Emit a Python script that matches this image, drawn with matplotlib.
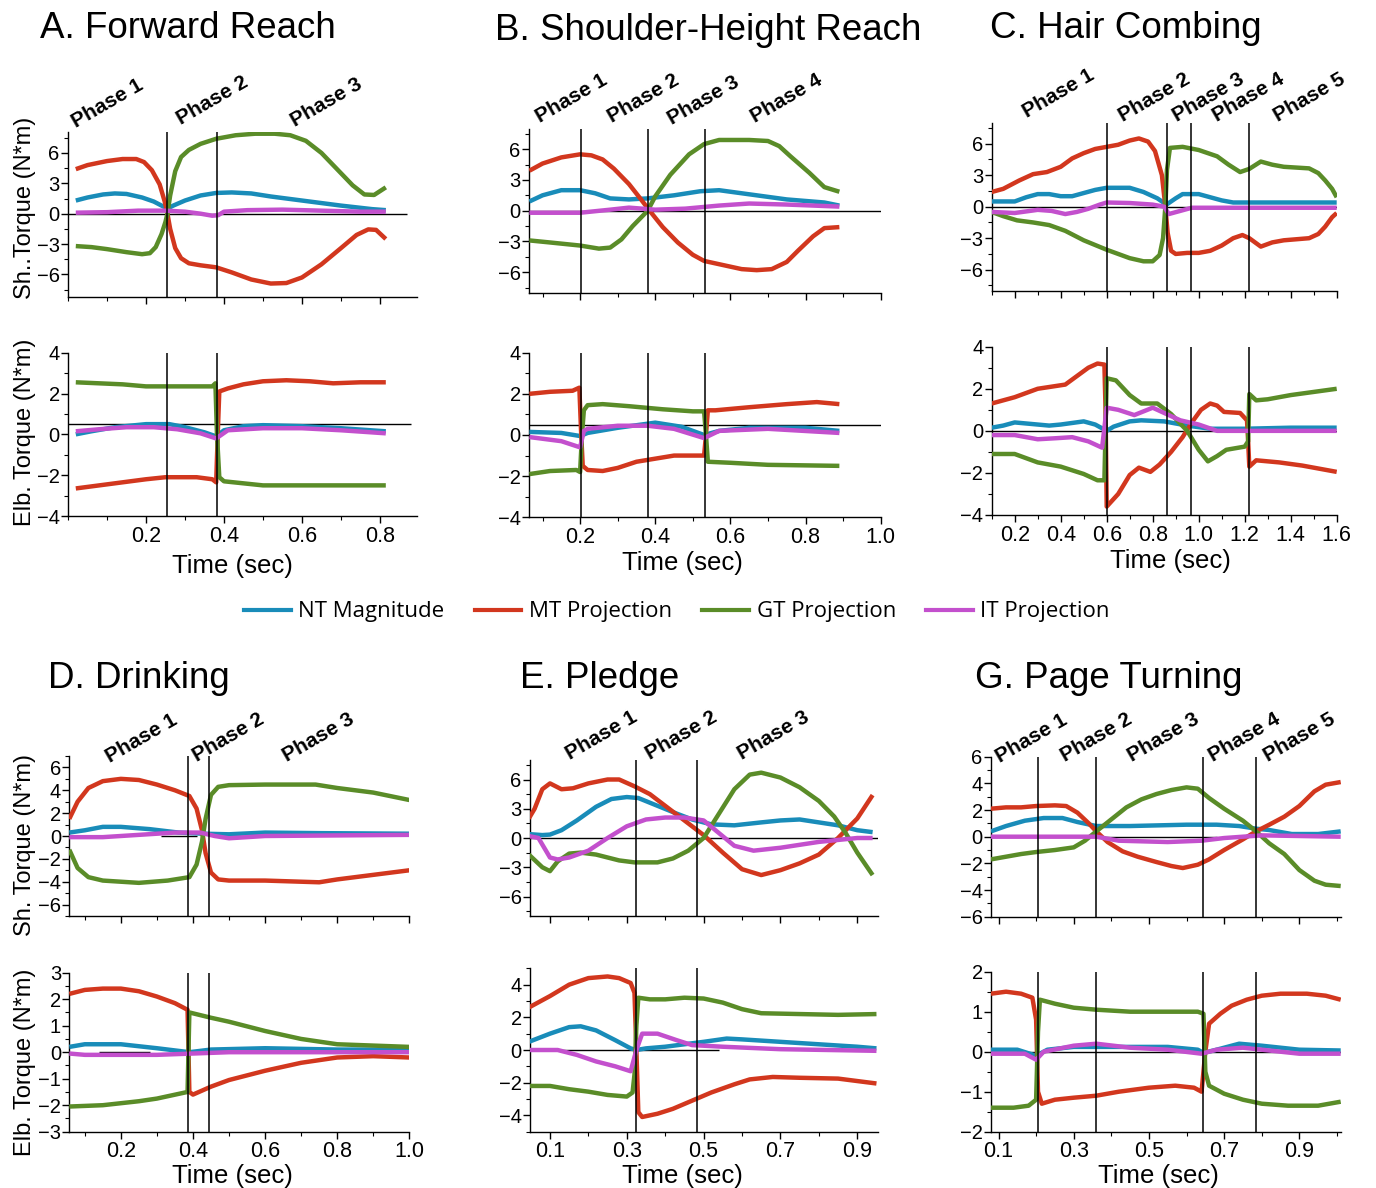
import matplotlib

matplotlib.use("Agg")

import matplotlib.pyplot as plt
from matplotlib.lines import Line2D
from matplotlib.ticker import MultipleLocator

plt.rcParams["font.family"] = ["Liberation Sans", "DejaVu Sans"]

W, H = 1376, 1188

SERIES = ["NT", "MT", "GT", "IT"]
LABELS = {"NT": "NT Magnitude", "MT": "MT Projection", "GT": "GT Projection", "IT": "IT Projection"}
COLORS = {"NT": "#198CB9", "MT": "#D2371E", "GT": "#5A8C28", "IT": "#C350CD"}

# ---- data: (time sec, torque N*m) ----
A_SH = {
    "NT": [(0.02, 1.3), (0.05, 1.6), (0.09, 1.9), (0.12, 2.0), (0.15, 1.95), (0.19, 1.6), (0.22, 1.2),
           (0.245, 0.7), (0.255, 0.5), (0.27, 0.8), (0.30, 1.3), (0.34, 1.8), (0.38, 2.05), (0.42, 2.1),
           (0.47, 2.0), (0.52, 1.7), (0.6, 1.3), (0.7, 0.8), (0.78, 0.45), (0.815, 0.35)],
    "MT": [(0.02, 4.4), (0.05, 4.8), (0.10, 5.2), (0.14, 5.4), (0.175, 5.4), (0.195, 5.1), (0.215, 4.3),
           (0.235, 2.9), (0.248, 1.2), (0.255, 0.0), (0.262, -1.5), (0.275, -3.4), (0.29, -4.4), (0.31, -4.9),
           (0.34, -5.1), (0.38, -5.3), (0.42, -5.8), (0.47, -6.5), (0.52, -6.9), (0.56, -6.85), (0.60, -6.3),
           (0.65, -5.0), (0.70, -3.4), (0.74, -2.1), (0.77, -1.55), (0.79, -1.6), (0.815, -2.5)],
    "GT": [(0.02, -3.2), (0.06, -3.3), (0.10, -3.5), (0.15, -3.8), (0.19, -4.0), (0.21, -3.9), (0.225, -3.3),
           (0.24, -2.0), (0.25, -0.8), (0.255, 0.0), (0.262, 1.8), (0.275, 4.2), (0.29, 5.6), (0.31, 6.3),
           (0.34, 6.9), (0.38, 7.4), (0.43, 7.75), (0.48, 7.9), (0.53, 7.9), (0.57, 7.75), (0.61, 7.2),
           (0.65, 6.0), (0.69, 4.4), (0.73, 2.8), (0.76, 1.9), (0.785, 1.85), (0.815, 2.6)],
    "IT": [(0.02, 0.1), (0.1, 0.15), (0.18, 0.3), (0.25, 0.3), (0.3, 0.2), (0.34, 0.0), (0.37, -0.2),
           (0.385, -0.15), (0.4, 0.2), (0.46, 0.35), (0.55, 0.4), (0.65, 0.3), (0.75, 0.2), (0.815, 0.2)],
}
A_EL = {
    "NT": [(0.02, 0.0), (0.06, 0.15), (0.12, 0.35), (0.2, 0.5), (0.26, 0.5), (0.3, 0.35), (0.35, 0.1),
           (0.38, -0.1), (0.4, 0.2), (0.45, 0.4), (0.5, 0.45), (0.6, 0.4), (0.7, 0.3), (0.815, 0.15)],
    "MT": [(0.02, -2.65), (0.06, -2.55), (0.12, -2.4), (0.2, -2.2), (0.25, -2.1), (0.33, -2.1), (0.37, -2.2),
           (0.38, -2.35), (0.384, 0.0), (0.388, 2.1), (0.41, 2.25), (0.45, 2.45), (0.5, 2.6), (0.56, 2.65),
           (0.62, 2.6), (0.68, 2.5), (0.75, 2.55), (0.815, 2.55)],
    "GT": [(0.02, 2.55), (0.08, 2.5), (0.14, 2.45), (0.2, 2.35), (0.3, 2.35), (0.37, 2.35), (0.378, 2.5),
           (0.382, 0.0), (0.388, -2.1), (0.4, -2.3), (0.45, -2.4), (0.5, -2.5), (0.65, -2.5), (0.815, -2.5)],
    "IT": [(0.02, 0.15), (0.08, 0.25), (0.15, 0.35), (0.22, 0.35), (0.28, 0.25), (0.34, 0.05), (0.38, -0.2),
           (0.41, 0.2), (0.5, 0.3), (0.6, 0.3), (0.7, 0.2), (0.815, 0.05)],
}
B_SH = {
    "NT": [(0.065, 0.9), (0.1, 1.5), (0.15, 2.0), (0.2, 2.0), (0.24, 1.7), (0.28, 1.2), (0.33, 1.1),
           (0.38, 1.2), (0.45, 1.5), (0.52, 1.9), (0.57, 2.0), (0.65, 1.6), (0.75, 1.1), (0.85, 0.8), (0.89, 0.5)],
    "MT": [(0.065, 3.9), (0.1, 4.6), (0.15, 5.2), (0.2, 5.5), (0.23, 5.4), (0.26, 5.0), (0.29, 4.1),
           (0.33, 2.6), (0.36, 1.2), (0.385, 0.0), (0.42, -1.6), (0.46, -3.1), (0.5, -4.3), (0.53, -4.9),
           (0.58, -5.3), (0.63, -5.7), (0.67, -5.8), (0.71, -5.7), (0.75, -5.0), (0.78, -3.9), (0.82, -2.5),
           (0.85, -1.7), (0.89, -1.6)],
    "GT": [(0.065, -2.9), (0.12, -3.1), (0.2, -3.4), (0.25, -3.7), (0.28, -3.6), (0.31, -2.8), (0.34, -1.5),
           (0.38, 0.0), (0.4, 1.4), (0.44, 3.5), (0.49, 5.5), (0.53, 6.5), (0.57, 6.9), (0.65, 6.9), (0.7, 6.8),
           (0.73, 6.3), (0.76, 5.3), (0.81, 3.7), (0.85, 2.3), (0.89, 1.85)],
    "IT": [(0.065, -0.2), (0.2, -0.2), (0.28, 0.1), (0.33, 0.3), (0.4, 0.1), (0.48, 0.2), (0.57, 0.5),
           (0.65, 0.7), (0.75, 0.6), (0.89, 0.4)],
}
B_EL = {
    "NT": [(0.065, 0.15), (0.15, 0.1), (0.2, -0.05), (0.22, 0.1), (0.3, 0.35), (0.38, 0.55), (0.4, 0.6),
           (0.47, 0.4), (0.53, 0.0), (0.57, 0.2), (0.65, 0.35), (0.8, 0.35), (0.89, 0.2)],
    "MT": [(0.065, 2.0), (0.12, 2.1), (0.18, 2.15), (0.198, 2.3), (0.203, 0.0), (0.207, -1.5), (0.22, -1.7),
           (0.26, -1.75), (0.3, -1.6), (0.35, -1.3), (0.4, -1.15), (0.45, -1.0), (0.53, -1.0), (0.535, 0.0),
           (0.54, 1.2), (0.56, 1.2), (0.65, 1.35), (0.75, 1.5), (0.83, 1.6), (0.89, 1.5)],
    "GT": [(0.065, -1.9), (0.12, -1.75), (0.19, -1.7), (0.2, -1.8), (0.205, 0.0), (0.21, 1.2), (0.22, 1.45),
           (0.26, 1.5), (0.33, 1.4), (0.42, 1.25), (0.5, 1.15), (0.53, 1.15), (0.535, 0.0), (0.54, -1.3),
           (0.6, -1.35), (0.7, -1.45), (0.89, -1.5)],
    "IT": [(0.065, -0.1), (0.15, -0.3), (0.2, -0.6), (0.21, 0.2), (0.22, 0.3), (0.3, 0.45), (0.38, 0.45),
           (0.45, 0.3), (0.53, -0.15), (0.57, 0.2), (0.7, 0.3), (0.89, 0.1)],
}
C_SH = {
    "NT": [(0.1, 0.5), (0.2, 0.5), (0.25, 0.9), (0.3, 1.2), (0.35, 1.2), (0.4, 1.0), (0.45, 1.0), (0.5, 1.3),
           (0.55, 1.6), (0.6, 1.8), (0.7, 1.8), (0.76, 1.4), (0.82, 0.8), (0.86, 0.2), (0.9, 0.8), (0.93, 1.2),
           (1.0, 1.2), (1.05, 0.9), (1.1, 0.6), (1.15, 0.4), (1.6, 0.4)],
    "MT": [(0.1, 1.4), (0.15, 1.7), (0.22, 2.5), (0.28, 3.1), (0.34, 3.3), (0.4, 3.8), (0.45, 4.6), (0.5, 5.1),
           (0.55, 5.5), (0.6, 5.7), (0.65, 5.9), (0.7, 6.3), (0.74, 6.5), (0.78, 6.2), (0.81, 5.3), (0.84, 3.0),
           (0.855, 0.0), (0.865, -2.5), (0.88, -4.2), (0.9, -4.5), (0.95, -4.4), (1.0, -4.4), (1.05, -4.2),
           (1.1, -3.7), (1.15, -3.0), (1.19, -2.7), (1.22, -3.0), (1.27, -3.8), (1.32, -3.4), (1.37, -3.2),
           (1.48, -3.0), (1.52, -2.6), (1.55, -1.9), (1.58, -1.0), (1.6, -0.6)],
    "GT": [(0.1, -0.5), (0.15, -0.9), (0.21, -1.3), (0.28, -1.5), (0.35, -1.75), (0.42, -2.3), (0.5, -3.2),
           (0.6, -4.1), (0.7, -4.9), (0.76, -5.2), (0.8, -5.2), (0.83, -4.6), (0.845, -3.0), (0.855, 0.0),
           (0.862, 3.5), (0.875, 5.6), (0.93, 5.7), (1.0, 5.4), (1.08, 4.8), (1.13, 4.0), (1.18, 3.3),
           (1.22, 3.6), (1.27, 4.3), (1.32, 4.0), (1.37, 3.8), (1.48, 3.65), (1.52, 3.2), (1.55, 2.5),
           (1.58, 1.7), (1.6, 0.9)],
    "IT": [(0.1, -0.5), (0.2, -0.6), (0.3, -0.3), (0.36, -0.4), (0.42, -0.7), (0.47, -0.5), (0.52, -0.2),
           (0.57, 0.2), (0.6, 0.4), (0.7, 0.35), (0.8, 0.2), (0.85, 0.0), (0.87, -0.7), (0.92, -0.4),
           (0.97, -0.1), (1.05, -0.1), (1.6, -0.1)],
}
C_EL = {
    "NT": [(0.1, 0.15), (0.15, 0.25), (0.2, 0.4), (0.25, 0.35), (0.3, 0.3), (0.35, 0.25), (0.4, 0.3),
           (0.5, 0.45), (0.55, 0.3), (0.6, 0.0), (0.63, 0.2), (0.7, 0.45), (0.75, 0.5), (0.85, 0.45),
           (0.95, 0.25), (1.05, 0.1), (1.2, 0.1), (1.4, 0.15), (1.6, 0.15)],
    "MT": [(0.1, 1.3), (0.2, 1.6), (0.3, 2.0), (0.36, 2.1), (0.42, 2.2), (0.47, 2.6), (0.52, 3.0),
           (0.56, 3.2), (0.59, 3.15), (0.595, 1.0), (0.6, -3.6), (0.65, -3.0), (0.7, -2.1), (0.74, -1.75),
           (0.79, -1.95), (0.83, -1.6), (0.88, -1.0), (0.93, -0.3), (0.97, 0.4), (1.01, 1.0), (1.05, 1.3),
           (1.08, 1.2), (1.11, 0.9), (1.18, 0.85), (1.21, 0.5), (1.215, -0.5), (1.22, -1.7), (1.25, -1.4),
           (1.35, -1.5), (1.45, -1.65), (1.55, -1.85), (1.6, -1.95)],
    "GT": [(0.1, -1.1), (0.2, -1.1), (0.3, -1.5), (0.4, -1.7), (0.5, -2.05), (0.56, -2.35), (0.59, -2.35),
           (0.6, 2.5), (0.64, 2.4), (0.7, 1.7), (0.75, 1.3), (0.82, 1.3), (0.88, 0.8), (0.95, 0.0),
           (1.0, -0.9), (1.04, -1.45), (1.08, -1.2), (1.12, -0.9), (1.2, -0.75), (1.215, -0.5), (1.22, 1.75),
           (1.25, 1.45), (1.3, 1.5), (1.4, 1.7), (1.5, 1.85), (1.6, 2.0)],
    "IT": [(0.1, -0.2), (0.2, -0.2), (0.3, -0.4), (0.38, -0.35), (0.45, -0.3), (0.52, -0.5), (0.58, -0.8),
           (0.6, 1.1), (0.65, 1.0), (0.72, 0.75), (0.8, 1.1), (0.86, 0.8), (0.92, 0.5), (1.0, 0.3),
           (1.08, 0.0), (1.6, 0.0)],
}
D_SH = {
    "NT": [(0.057, 0.3), (0.1, 0.5), (0.15, 0.8), (0.2, 0.8), (0.28, 0.6), (0.36, 0.3), (0.43, 0.2),
           (0.5, 0.15), (0.6, 0.3), (0.75, 0.25), (1.0, 0.2)],
    "MT": [(0.057, 1.5), (0.08, 3.0), (0.11, 4.2), (0.15, 4.8), (0.2, 5.0), (0.25, 4.9), (0.3, 4.5),
           (0.35, 4.0), (0.39, 3.5), (0.41, 2.4), (0.425, 0.5), (0.435, -1.5), (0.45, -3.2), (0.47, -3.8),
           (0.5, -3.9), (0.6, -3.9), (0.7, -4.0), (0.75, -4.05), (0.8, -3.8), (0.9, -3.4), (1.0, -3.0)],
    "GT": [(0.057, -1.2), (0.08, -2.8), (0.11, -3.6), (0.15, -3.9), (0.25, -4.1), (0.33, -3.9), (0.39, -3.6),
           (0.41, -2.5), (0.425, -0.5), (0.435, 1.5), (0.45, 3.6), (0.47, 4.3), (0.5, 4.45), (0.6, 4.5),
           (0.74, 4.5), (0.8, 4.2), (0.9, 3.8), (1.0, 3.15)],
    "IT": [(0.057, -0.1), (0.15, -0.1), (0.25, 0.1), (0.35, 0.3), (0.42, 0.3), (0.46, 0.0), (0.5, -0.2),
           (0.6, 0.0), (1.0, 0.1)],
}
D_EL = {
    "NT": [(0.057, 0.2), (0.1, 0.3), (0.2, 0.3), (0.3, 0.15), (0.39, 0.0), (0.45, 0.1), (0.6, 0.15),
           (0.8, 0.1), (1.0, 0.1)],
    "MT": [(0.057, 2.2), (0.1, 2.35), (0.15, 2.4), (0.2, 2.4), (0.25, 2.3), (0.3, 2.1), (0.35, 1.85),
           (0.385, 1.6), (0.39, -1.5), (0.4, -1.6), (0.45, -1.3), (0.5, -1.05), (0.6, -0.7), (0.7, -0.4),
           (0.8, -0.2), (0.9, -0.15), (1.0, -0.2)],
    "GT": [(0.057, -2.05), (0.15, -2.0), (0.25, -1.85), (0.3, -1.75), (0.385, -1.5), (0.39, 1.5), (0.45, 1.3),
           (0.5, 1.15), (0.6, 0.8), (0.7, 0.5), (0.8, 0.3), (0.9, 0.25), (1.0, 0.2)],
    "IT": [(0.057, -0.05), (0.1, -0.1), (0.3, -0.1), (0.4, -0.05), (0.5, 0.0), (1.0, 0.0)],
}
E_SH = {
    "NT": [(0.045, 0.4), (0.08, 0.3), (0.1, 0.35), (0.13, 0.8), (0.17, 1.8), (0.22, 3.2), (0.26, 4.0),
           (0.3, 4.2), (0.33, 4.1), (0.38, 3.3), (0.43, 2.5), (0.47, 1.9), (0.52, 1.4), (0.58, 1.3),
           (0.65, 1.6), (0.7, 1.8), (0.75, 1.9), (0.8, 1.6), (0.85, 1.3), (0.9, 0.8), (0.94, 0.6)],
    "MT": [(0.045, 2.0), (0.06, 3.0), (0.08, 5.0), (0.1, 5.6), (0.13, 5.0), (0.16, 5.1), (0.2, 5.6),
           (0.25, 6.0), (0.28, 6.0), (0.32, 5.3), (0.36, 4.5), (0.4, 3.3), (0.45, 1.8), (0.5, 0.3),
           (0.55, -1.5), (0.6, -3.2), (0.65, -3.8), (0.7, -3.3), (0.75, -2.6), (0.8, -1.7), (0.85, 0.0),
           (0.9, 2.0), (0.94, 4.4)],
    "GT": [(0.045, -1.7), (0.08, -3.0), (0.1, -3.4), (0.12, -2.4), (0.15, -1.6), (0.18, -1.5), (0.22, -1.7),
           (0.28, -2.3), (0.32, -2.5), (0.38, -2.5), (0.42, -2.1), (0.46, -1.3), (0.5, 0.0), (0.54, 2.5),
           (0.58, 5.0), (0.62, 6.5), (0.65, 6.7), (0.7, 6.2), (0.75, 5.2), (0.8, 3.8), (0.84, 2.2),
           (0.87, 0.5), (0.9, -1.5), (0.94, -3.8)],
    "IT": [(0.045, 0.2), (0.07, 0.0), (0.1, -2.0), (0.12, -2.2), (0.15, -2.0), (0.2, -1.3), (0.25, 0.0),
           (0.3, 1.2), (0.35, 1.9), (0.4, 2.1), (0.45, 2.1), (0.5, 1.8), (0.54, 0.5), (0.58, -0.8),
           (0.63, -1.3), (0.7, -1.0), (0.8, -0.4), (0.9, 0.0), (0.94, 0.0)],
}
E_EL = {
    "NT": [(0.045, 0.5), (0.1, 1.0), (0.15, 1.4), (0.18, 1.45), (0.22, 1.2), (0.27, 0.6), (0.31, 0.1),
           (0.325, 0.0), (0.35, 0.1), (0.4, 0.2), (0.5, 0.5), (0.56, 0.7), (0.6, 0.65), (0.7, 0.5),
           (0.8, 0.35), (0.9, 0.2), (0.95, 0.1)],
    "MT": [(0.045, 2.6), (0.1, 3.3), (0.15, 4.0), (0.2, 4.4), (0.25, 4.5), (0.28, 4.4), (0.31, 4.1),
           (0.32, 3.5), (0.325, 0.0), (0.33, -3.8), (0.34, -4.1), (0.38, -3.9), (0.42, -3.6), (0.47, -3.1),
           (0.52, -2.6), (0.58, -2.1), (0.62, -1.8), (0.68, -1.65), (0.75, -1.7), (0.85, -1.75), (0.9, -1.9),
           (0.95, -2.05)],
    "GT": [(0.045, -2.2), (0.1, -2.2), (0.15, -2.4), (0.2, -2.55), (0.25, -2.75), (0.3, -2.85), (0.315, -2.6),
           (0.32, -1.5), (0.325, 1.5), (0.33, 3.2), (0.36, 3.1), (0.4, 3.1), (0.45, 3.2), (0.5, 3.15),
           (0.55, 2.9), (0.6, 2.5), (0.65, 2.25), (0.75, 2.2), (0.85, 2.15), (0.95, 2.2)],
    "IT": [(0.045, 0.0), (0.12, 0.0), (0.17, -0.3), (0.22, -0.7), (0.27, -1.0), (0.31, -1.3), (0.325, 0.0),
           (0.34, 1.0), (0.38, 1.0), (0.43, 0.6), (0.47, 0.3), (0.55, 0.2), (0.7, 0.05), (0.95, -0.05)],
}
G_SH = {
    "NT": [(0.08, 0.4), (0.12, 0.8), (0.17, 1.2), (0.22, 1.4), (0.27, 1.4), (0.31, 1.1), (0.36, 0.8),
           (0.45, 0.8), (0.6, 0.9), (0.68, 0.9), (0.74, 0.8), (0.785, 0.6), (0.82, 0.5), (0.88, 0.2),
           (0.95, 0.2), (1.01, 0.4)],
    "MT": [(0.08, 2.1), (0.12, 2.2), (0.16, 2.2), (0.2, 2.3), (0.25, 2.35), (0.28, 2.3), (0.31, 1.8),
           (0.34, 1.0), (0.36, 0.4), (0.39, -0.4), (0.43, -1.1), (0.47, -1.5), (0.52, -1.9), (0.56, -2.2),
           (0.59, -2.35), (0.63, -2.1), (0.66, -1.7), (0.7, -1.0), (0.75, -0.2), (0.785, 0.4), (0.82, 0.9),
           (0.86, 1.5), (0.9, 2.3), (0.94, 3.4), (0.97, 3.9), (1.01, 4.1)],
    "GT": [(0.08, -1.7), (0.12, -1.5), (0.16, -1.3), (0.2, -1.15), (0.25, -1.0), (0.3, -0.8), (0.33, -0.3),
           (0.36, 0.4), (0.4, 1.3), (0.44, 2.2), (0.48, 2.8), (0.52, 3.2), (0.56, 3.5), (0.6, 3.7),
           (0.63, 3.6), (0.66, 2.9), (0.7, 2.1), (0.75, 1.2), (0.785, 0.4), (0.82, -0.5), (0.86, -1.3),
           (0.9, -2.5), (0.94, -3.3), (0.97, -3.6), (1.01, -3.7)],
    "IT": [(0.08, 0.0), (0.36, 0.0), (0.42, -0.3), (0.55, -0.4), (0.64, -0.3), (0.7, -0.1), (0.75, 0.0),
           (0.8, 0.1), (1.01, 0.0)],
}
G_EL = {
    "NT": [(0.08, 0.05), (0.15, 0.05), (0.2, -0.1), (0.23, 0.05), (0.3, 0.12), (0.4, 0.12), (0.55, 0.12),
           (0.63, 0.05), (0.645, -0.03), (0.68, 0.05), (0.74, 0.2), (0.8, 0.15), (0.9, 0.05), (1.01, 0.03)],
    "MT": [(0.08, 1.45), (0.12, 1.5), (0.16, 1.45), (0.19, 1.35), (0.2, 0.8), (0.205, -1.0), (0.215, -1.3),
           (0.25, -1.2), (0.3, -1.15), (0.36, -1.1), (0.42, -1.0), (0.5, -0.9), (0.57, -0.85), (0.62, -0.9),
           (0.64, -1.0), (0.65, 0.0), (0.66, 0.7), (0.69, 0.95), (0.72, 1.15), (0.76, 1.3), (0.8, 1.4),
           (0.85, 1.45), (0.92, 1.45), (0.97, 1.4), (1.01, 1.3)],
    "GT": [(0.08, -1.4), (0.14, -1.4), (0.18, -1.35), (0.2, -1.2), (0.205, 0.5), (0.21, 1.3), (0.25, 1.2),
           (0.3, 1.1), (0.36, 1.05), (0.45, 1.0), (0.55, 1.0), (0.63, 1.0), (0.645, 0.95), (0.65, -0.5),
           (0.66, -0.85), (0.7, -1.05), (0.75, -1.2), (0.8, -1.3), (0.87, -1.35), (0.95, -1.35), (1.01, -1.25)],
    "IT": [(0.08, -0.05), (0.17, -0.05), (0.2, -0.2), (0.22, 0.0), (0.3, 0.15), (0.36, 0.2), (0.45, 0.1),
           (0.55, 0.05), (0.64, -0.05), (0.68, 0.05), (0.75, 0.1), (0.8, 0.05), (0.9, -0.05), (1.01, -0.05)],
}

# phase boundaries (sec)
A_PHASES = [0.255, 0.383]
B_PHASES = [0.203, 0.38, 0.533]
C_PHASES = [0.6, 0.864, 0.967, 1.218]
D_PHASES = [0.386, 0.444]
E_PHASES = [0.323, 0.483]
G_PHASES = [0.204, 0.36, 0.645, 0.785]

# ---- layout (pixels) ----
PANELS = [
    dict(title="A. Forward Reach", title_xy=(40, 29), data=(A_SH, A_EL), phases=A_PHASES,
         xlim=(0.0, 0.895), xmajor=0.2, xfirst=0.2, x0=68, x1=417,
         top=dict(box=(131.7, 296.7), ylim=(-8.2, 8.1), yticks=[-6, -3, 0, 3, 6], hline=(0, 0.0, 0.87)),
         bot=dict(box=(352.7, 516), ylim=(-4, 4), yticks=[-4, -2, 0, 2, 4], hline=(0.5, 0.0, 0.88)),
         labels=[(76, 128), (181, 125), (295, 127)],
         ylab=("Sh..Torque (N*m)", 208, "Elb. Torque (N*m)", 432), xlab=(232, 566)),
    dict(title="B. Shoulder-Height Reach", title_xy=(495, 31), data=(B_SH, B_EL), phases=B_PHASES,
         xlim=(0.064, 1.0), xmajor=0.2, xfirst=0.2, x0=529, x1=880.7,
         top=dict(box=(128.7, 292.7), ylim=(-8, 8), yticks=[-6, -3, 0, 3, 6], hline=(0, 0.064, 1.0)),
         bot=dict(box=(352.7, 517.3), ylim=(-4, 4), yticks=[-4, -2, 0, 2, 4], hline=(0.5, 0.064, 1.0)),
         labels=[(540, 123), (612, 123), (672, 125), (755, 123)], ylab=None, xlab=(682, 563)),
    dict(title="C. Hair Combing", title_xy=(990, 29), data=(C_SH, C_EL), phases=C_PHASES,
         xlim=(0.1, 1.6), xmajor=0.2, xfirst=0.2, x0=991.7, x1=1336.7,
         top=dict(box=(122.7, 290.7), ylim=(-8, 8), yticks=[-6, -3, 0, 3, 6], hline=(0, 0.1, 1.6)),
         bot=dict(box=(346.7, 515), ylim=(-4, 4), yticks=[-4, -2, 0, 2, 4], hline=(0, 0.1, 1.6)),
         labels=[(1027, 118), (1123, 122), (1177, 122), (1217, 122), (1278, 122)], ylab=None, xlab=(1170, 561)),
    dict(title="D. Drinking", title_xy=(48, 679), data=(D_SH, D_EL), phases=D_PHASES,
         xlim=(0.057, 1.0), xmajor=0.2, xfirst=0.2, x0=69.3, x1=409.3,
         top=dict(box=(756, 916), ylim=(-7, 7), yticks=[-6, -4, -2, 0, 2, 4, 6], hline=(0, 0.31, 0.41)),
         bot=dict(box=(972.7, 1131.7), ylim=(-3, 3), yticks=[-3, -2, -1, 0, 1, 2, 3], hline=(0, 0.14, 0.28)),
         labels=[(110, 763), (197, 762), (287, 762)],
         ylab=("Sh. Torque (N*m)", 845, "Elb. Torque (N*m)", 1062), xlab=(232, 1176)),
    dict(title="E. Pledge", title_xy=(520, 679), data=(E_SH, E_EL), phases=E_PHASES,
         xlim=(0.048, 0.954), xmajor=0.2, xfirst=0.1, x0=530, x1=878,
         top=dict(box=(760, 916), ylim=(-8, 8), yticks=[-6, -3, 0, 3, 6], hline=(0, 0.048, 0.954)),
         bot=dict(box=(968.3, 1131.7), ylim=(-5, 5), yticks=[-4, -2, 0, 2, 4], hline=(0, 0.048, 0.54)),
         labels=[(570, 760), (650, 760), (742, 760)], ylab=None, xlab=(682, 1176)),
    dict(title="G. Page Turning", title_xy=(975, 679), data=(G_SH, G_EL), phases=G_PHASES,
         xlim=(0.08, 1.01), xmajor=0.2, xfirst=0.1, x0=991, x1=1340.7,
         top=dict(box=(756.7, 916.7), ylim=(-6, 6), yticks=[-6, -4, -2, 0, 2, 4, 6], hline=(0, 0.37, 0.68)),
         bot=dict(box=(971.7, 1131.7), ylim=(-2, 2), yticks=[-2, -1, 0, 1, 2], hline=(0, 0.08, 1.01)),
         labels=[(1000, 763), (1065, 762), (1132, 762), (1213, 762), (1268, 762)], ylab=None, xlab=(1158, 1176)),
]

fig = plt.figure(figsize=(W / 100, H / 100), dpi=100)


def fxy(x, y):
    return x / W, 1 - y / H


def make_axes(x0, x1, ytop, ybot):
    return fig.add_axes([x0 / W, 1 - ybot / H, (x1 - x0) / W, (ybot - ytop) / H])


def draw(ax, series, panel, cfg, show_xlabels):
    y, h0, h1 = cfg["hline"]
    ax.hlines(y, h0, h1, color="black", lw=1.0, zorder=1)
    for x in panel["phases"]:
        ax.axvline(x, color="black", lw=1.1, zorder=4)
    for key in SERIES:
        pts = series[key]
        ax.plot([p[0] for p in pts], [p[1] for p in pts], color=COLORS[key], lw=3.2,
                solid_joinstyle="round", solid_capstyle="butt", zorder=3)
    ax.set_xlim(*panel["xlim"])
    ax.set_ylim(*cfg["ylim"])
    ax.set_yticks(cfg["yticks"])
    step = cfg["yticks"][1] - cfg["yticks"][0]
    ax.yaxis.set_minor_locator(MultipleLocator(step / 2))
    lo, hi = panel["xlim"]
    major = []
    v = panel["xfirst"]
    while v <= hi + 1e-6:
        major.append(round(v, 2))
        v += panel["xmajor"]
    ax.set_xticks(major)
    ax.xaxis.set_minor_locator(MultipleLocator(panel["xmajor"] / 2))
    ax.set_xticklabels([f"{m:.1f}" for m in major] if show_xlabels else [])
    for side in ("top", "right"):
        ax.spines[side].set_visible(False)
    for side in ("left", "bottom"):
        ax.spines[side].set_linewidth(1.0)
    ax.tick_params(which="major", direction="out", length=5, width=1.0, labelsize=14.5)
    ax.tick_params(which="minor", direction="out", length=3, width=0.8)
    ax.tick_params(axis="x", labelsize=15.5, pad=2)
    ax.tick_params(axis="y", pad=1)
    ax.patch.set_alpha(0)


for panel in PANELS:
    sh, el = panel["data"]
    ax_top = make_axes(panel["x0"], panel["x1"], *panel["top"]["box"])
    ax_bot = make_axes(panel["x0"], panel["x1"], *panel["bot"]["box"])
    draw(ax_top, sh, panel, panel["top"], False)
    draw(ax_bot, el, panel, panel["bot"], True)

    tx, ty = fxy(*panel["title_xy"])
    fig.text(tx, ty, panel["title"], fontsize=26.5, ha="left", va="center")
    for i, (lx, ly) in enumerate(panel["labels"]):
        fx, fy = fxy(lx, ly)
        fig.text(fx, fy, f"Phase {i + 1}", fontsize=15, fontweight="bold", rotation=30,
                 rotation_mode="anchor", ha="left", va="baseline")
    xx, xy = fxy(*panel["xlab"])
    fig.text(xx, xy, "Time (sec)", fontsize=18.5, ha="center", va="center")
    if panel["ylab"]:
        top_lab, top_y, bot_lab, bot_y = panel["ylab"]
        fig.text(*fxy(25, top_y), top_lab, fontsize=17, rotation=90, ha="center", va="center")
        fig.text(*fxy(25, bot_y), bot_lab, fontsize=17, rotation=90, ha="center", va="center")

handles = [Line2D([], [], color=COLORS[k], lw=3) for k in SERIES]
fig.legend(handles, [LABELS[k] for k in SERIES], loc="center", bbox_to_anchor=fxy(677, 612), ncol=4,
           frameon=False, handlelength=2.1, handletextpad=0.35, columnspacing=1.35,
           prop={"family": ["Open Sans", "DejaVu Sans"], "size": 16})

fig.savefig("out.png", dpi=100)
